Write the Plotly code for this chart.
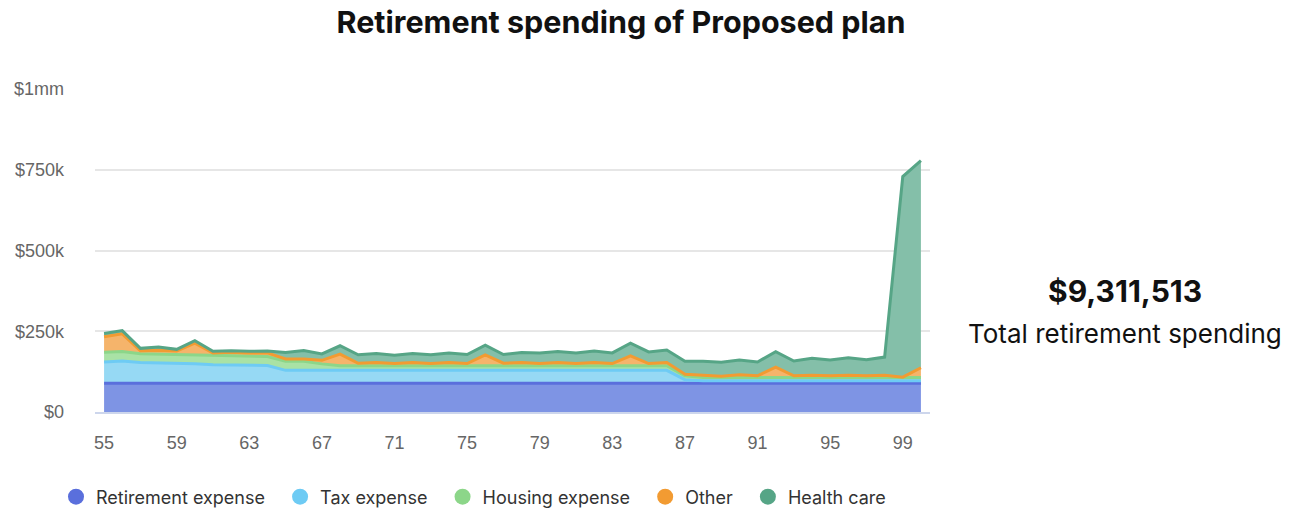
import plotly.graph_objects as go

# Ages 55..100
ages = list(range(55, 101))

retirement_expense = [
    89000, 89000, 89000, 89000, 89000, 89000, 89000, 89000, 89000, 89000,
    89000, 89000, 89000, 89000, 89000, 89000, 89000, 89000, 89000, 89000,
    89000, 89000, 89000, 89000, 89000, 89000, 89000, 89000, 89000, 89000,
    89000, 89000, 89000, 89000, 89000, 89000, 89000, 89000, 89000, 89000,
    89000, 89000, 89000, 89000, 89000, 89000,
]
tax_expense = [
    66000, 69000, 64000, 63000, 60000, 60000, 57000, 57000, 57000, 55000,
    40000, 40000, 40000, 40000, 40000, 40000, 40000, 40000, 40000, 40000,
    40000, 40000, 40000, 40000, 40000, 40000, 40000, 40000, 40000, 40000,
    40000, 40000, 11000, 8000, 8000, 8000, 8000, 8000, 8000, 8000,
    8000, 8000, 8000, 8000, 8000, 8000,
]
housing_expense = [
    30000, 29000, 27000, 27000, 28000, 28000, 28000, 28000, 28000, 28000,
    28000, 28000, 20000, 14000, 14000, 14000, 14000, 14000, 14000, 14000,
    14000, 14000, 14000, 14000, 14000, 14000, 14000, 14000, 14000, 14000,
    14000, 14000, 12000, 10000, 10000, 10000, 10000, 10000, 10000, 10000,
    10000, 10000, 10000, 10000, 10000, 10000,
]
other = [
    48000, 55000, 10000, 12000, 12000, 36000, 9000, 11000, 9000, 11000,
    7000, 7000, 11000, 36000, 8000, 10000, 7000, 10000, 7000, 10000,
    7000, 34000, 8000, 10000, 7000, 10000, 7000, 10000, 7000, 31000,
    7000, 10000, 5000, 7000, 4000, 8000, 5000, 32000, 5000, 7000,
    5000, 7000, 5000, 7000, 1000, 30000,
]
health_care = [
    10000, 10000, 7000, 10000, 5000, 8000, 5000, 5000, 5000, 6000,
    20000, 26000, 20000, 26000, 26000, 28000, 26000, 28000, 27000, 30000,
    28000, 30000, 27000, 31000, 33000, 34000, 33000, 36000, 33000, 39000,
    36000, 39000, 40000, 43000, 43000, 46000, 43000, 48000, 46000, 52000,
    49000, 54000, 50000, 56000, 621000, 641000,
]

series_names = ["Retirement expense", "Tax expense", "Housing expense", "Other", "Health care"]
series_values = [retirement_expense, tax_expense, housing_expense, other, health_care]
line_colors = ["#5a6fdc", "#6ecbf4", "#8cd689", "#f29b32", "#56a586"]
fill_colors = ["#7e94e4", "#96d9f4", "#a9e2a5", "#f5b46b", "#84bfa9"]

y_tickvals = [0, 250000, 500000, 750000, 1000000]
y_ticktext = ["$0", "$250k", "$500k", "$750k", "$1mm"]
x_tickvals = list(range(55, 100, 4))

total_label = "$9,311,513"
total_caption = "Total retirement spending"

fig = go.Figure()

for name, vals, lc, fc in zip(series_names, series_values, line_colors, fill_colors):
    fig.add_trace(go.Scatter(
        x=ages, y=vals, name=name, mode="lines",
        stackgroup="spend", line=dict(color=lc, width=3),
        fillcolor=fc, showlegend=False, hoverinfo="x+y+name",
    ))

# circular legend keys, with a little trailing space between entries
for name, lc in zip(series_names, line_colors):
    fig.add_trace(go.Scatter(
        x=[None], y=[None], name=name + "&nbsp;&nbsp;", mode="markers",
        marker=dict(color=lc, size=16, symbol="circle"),
        showlegend=True,
    ))

fig.update_layout(
    width=1293, height=512,
    margin=dict(l=95, r=363, t=89, b=100, autoexpand=False),
    paper_bgcolor="white", plot_bgcolor="white",
    title=dict(
        text="<b>Retirement spending of Proposed plan</b>",
        x=621 / 1293, xref="container", xanchor="center",
        y=1 - 22 / 512, yref="container", yanchor="middle",
        font=dict(family="Inter", size=30.5, color="#111111"),
    ),
    xaxis=dict(
        range=[54.5, 100.5], tickvals=x_tickvals,
        showgrid=False, zeroline=False,
        showline=True, linecolor="#cdd6ec", linewidth=2,
        ticks="", ticklabelstandoff=13,
        tickfont=dict(family="Liberation Sans", size=18, color="#666666"),
    ),
    yaxis=dict(
        range=[0, 1000000], tickvals=y_tickvals, ticktext=y_ticktext,
        showgrid=True, gridcolor="#e6e6e6", gridwidth=2,
        zeroline=False, showline=False, ticks="",
        ticklabelstandoff=30,
        tickfont=dict(family="Liberation Sans", size=18, color="#666666"),
    ),
    legend=dict(
        orientation="h", traceorder="normal",
        x=(56 - 95) / 835, xref="paper", xanchor="left",
        y=(412 - 497) / 323, yref="paper", yanchor="middle",
        font=dict(family="Inter", size=18, color="#333333"),
        itemclick=False,
    ),
    annotations=[
        dict(text="<b>" + total_label + "</b>", xref="paper", yref="paper",
             x=(1125 - 95) / 835, y=(412 - 291) / 323, xanchor="center", yanchor="middle",
             showarrow=False, font=dict(family="Inter", size=30, color="#111111")),
        dict(text=total_caption, xref="paper", yref="paper",
             x=(1125 - 95) / 835, y=(412 - 333) / 323, xanchor="center", yanchor="middle",
             showarrow=False, font=dict(family="Inter", size=26, color="#111111")),
    ],
)

fig.write_html("out.html")
